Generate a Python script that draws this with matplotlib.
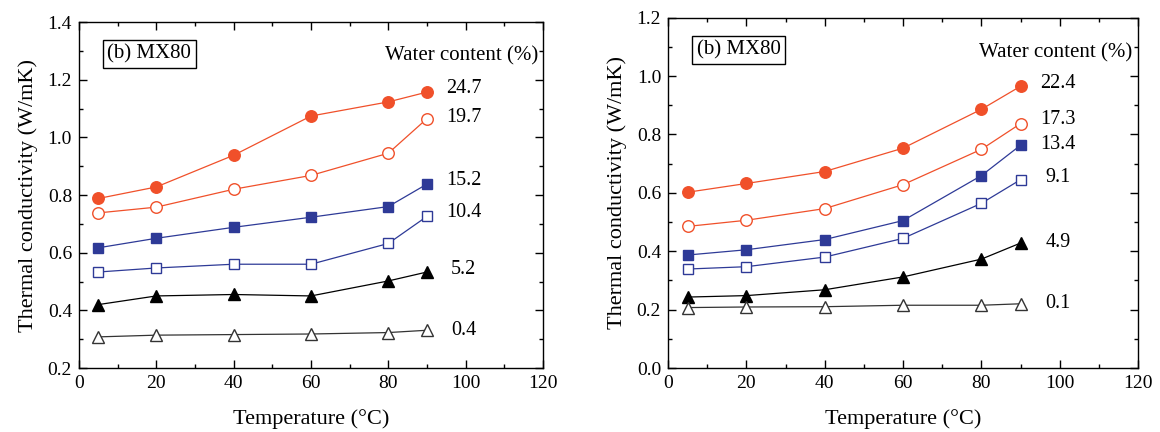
import numpy as np
import matplotlib
matplotlib.use("Agg")
import matplotlib.pyplot as plt
from matplotlib.ticker import MultipleLocator

plt.rcParams['font.family'] = ['Liberation Serif', 'DejaVu Serif']
plt.rcParams['mathtext.fontset'] = 'stix'

temp = [5, 20, 40, 60, 80, 90]

# left panel: water contents and conductivities
left_labels = ['24.7', '19.7', '15.2', '10.4', '5.2', '0.4']
left_w247 = [0.788, 0.828, 0.938, 1.074, 1.123, 1.157]
left_w197 = [0.738, 0.758, 0.820, 0.868, 0.945, 1.065]
left_w152 = [0.617, 0.650, 0.688, 0.723, 0.760, 0.838]
left_w104 = [0.533, 0.547, 0.560, 0.560, 0.632, 0.726]
left_w52 = [0.420, 0.450, 0.455, 0.450, 0.502, 0.533]
left_w04 = [0.308, 0.314, 0.316, 0.318, 0.323, 0.331]
left_label_y = [1.169, 1.070, 0.851, 0.738, 0.541, 0.331]

# right panel
right_labels = ['22.4', '17.3', '13.4', '9.1', '4.9', '0.1']
right_w224 = [0.602, 0.632, 0.673, 0.753, 0.886, 0.965]
right_w173 = [0.485, 0.506, 0.546, 0.628, 0.749, 0.837]
right_w134 = [0.387, 0.405, 0.440, 0.505, 0.659, 0.763]
right_w91 = [0.339, 0.347, 0.380, 0.444, 0.564, 0.645]
right_w49 = [0.243, 0.248, 0.268, 0.312, 0.373, 0.428]
right_w01 = [0.207, 0.209, 0.210, 0.215, 0.215, 0.220]
right_label_y = [0.975, 0.852, 0.767, 0.652, 0.431, 0.220]

red = '#F0502A'
blue = '#2E3A97'

styles = [
    dict(color=red, marker='o', mfc=red, ms=8.3),
    dict(color=red, marker='o', mfc='white', ms=8.3),
    dict(color=blue, marker='s', mfc=blue, ms=7.2),
    dict(color=blue, marker='s', mfc='white', ms=7.2),
    dict(color='black', marker='^', mfc='black', ms=8.2),
    dict(color='#333333', marker='^', mfc='white', ms=8.2),
]

fig = plt.figure(figsize=(11.6, 4.32), dpi=100)
ax1 = fig.add_axes([0.0681, 0.1481, 0.4, 0.8009])
ax2 = fig.add_axes([0.5759, 0.1481, 0.4052, 0.8111])


def draw(ax, series, labels, label_y, ylim, wc_y):
    for vals, st in zip(series, styles):
        ax.plot(temp, vals, lw=0.9, mew=1.0, mec=st['color'], **st)
    for lab, y in zip(labels, label_y):
        ax.text(99.5, y, lab, ha='center', va='center', fontsize=14.5)
    ax.text(99, wc_y, 'Water content (%)', ha='center', va='center', fontsize=15)
    ax.text(0.061, 0.908, '(b) MX80', transform=ax.transAxes, ha='left', va='center',
            fontsize=15, bbox=dict(boxstyle='square,pad=0.22', fc='white', ec='black', lw=1.0))
    ax.set_xlim(0, 120)
    ax.set_ylim(*ylim)
    ax.xaxis.set_major_locator(MultipleLocator(20))
    ax.xaxis.set_minor_locator(MultipleLocator(10))
    ax.yaxis.set_major_locator(MultipleLocator(0.2))
    ax.yaxis.set_minor_locator(MultipleLocator(0.1))
    ax.yaxis.set_major_formatter(matplotlib.ticker.FormatStrFormatter('%.1f'))
    ax.tick_params(which='both', direction='in', top=True, right=True, labelsize=14, width=1.0)
    ax.tick_params(which='major', length=6, pad=5)
    ax.tick_params(which='minor', length=3)
    for sp in ax.spines.values():
        sp.set_linewidth(1.0)
    ax.set_xlabel('Temperature (°C)', fontsize=16, labelpad=12)
    ax.set_ylabel('Thermal conductivity (W/mK)', fontsize=16, labelpad=7)


draw(ax1, [left_w247, left_w197, left_w152, left_w104, left_w52, left_w04],
     left_labels, left_label_y, (0.2, 1.4), 1.284)
draw(ax2, [right_w224, right_w173, right_w134, right_w91, right_w49, right_w01],
     right_labels, right_label_y, (0.0, 1.2), 1.081)

fig.savefig('out.png', dpi=100)
